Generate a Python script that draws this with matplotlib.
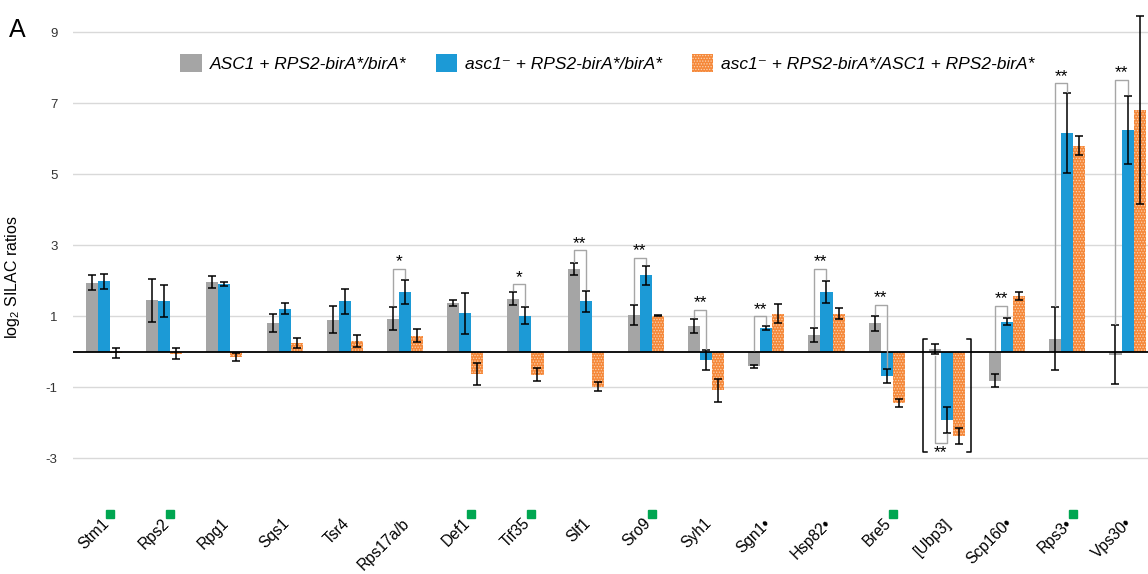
import numpy as np
import matplotlib
matplotlib.use("Agg")
import matplotlib.pyplot as plt
from matplotlib.patches import Patch

plt.rcParams['font.family'] = ['Liberation Sans', 'DejaVu Sans']
plt.rcParams['mathtext.fontset'] = 'custom'
plt.rcParams['mathtext.rm'] = 'Liberation Sans'
plt.rcParams['mathtext.it'] = 'Liberation Sans:italic'
plt.rcParams['hatch.linewidth'] = 0.6

# data (log2 SILAC ratios)
genes = ['Stm1', 'Rps2', 'Rpg1', 'Sqs1', 'Tsr4', 'Rps17a/b', 'Def1', 'Tif35', 'Slf1',
         'Sro9', 'Syh1', 'Sgn1\u2022', 'Hsp82\u2022', 'Bre5', '[Ubp3]', 'Scp160\u2022',
         'Rps3\u2022', 'Vps30\u2022']
green_marked = ['Stm1', 'Rps2', 'Def1', 'Tif35', 'Sro9', 'Bre5', 'Rps3\u2022']

gray_vals = [1.95, 1.45, 1.97, 0.80, 0.90, 0.93, 1.37, 1.50, 2.32, 1.04, 0.72, -0.41, 0.48, 0.80, 0.08, -0.81, 0.37, -0.08]
gray_err = [0.20, 0.60, 0.16, 0.25, 0.38, 0.33, 0.08, 0.18, 0.17, 0.29, 0.20, 0.05, 0.20, 0.22, 0.14, 0.19, 0.88, 0.82]
blue_vals = [1.98, 1.42, 1.90, 1.21, 1.42, 1.69, 1.08, 1.02, 1.42, 2.15, -0.23, 0.67, 1.69, -0.69, -1.92, 0.85, 6.16, 6.25]
blue_err = [0.20, 0.45, 0.06, 0.15, 0.35, 0.34, 0.58, 0.25, 0.30, 0.28, 0.27, 0.05, 0.31, 0.20, 0.36, 0.10, 1.12, 0.95]
orange_vals = [-0.03, -0.05, -0.15, 0.26, 0.30, 0.45, -0.63, -0.65, -0.98, 1.02, -1.09, 1.07, 1.07, -1.45, -2.37, 1.57, 5.81, 6.82]
orange_err = [0.15, 0.15, 0.12, 0.14, 0.17, 0.18, 0.30, 0.18, 0.13, 0.02, 0.32, 0.27, 0.15, 0.12, 0.23, 0.10, 0.26, 2.65]

legend_labels = ['ASC1 + RPS2-birA*/birA*',
                 'asc1\u207b + RPS2-birA*/birA*',
                 'asc1\u207b + RPS2-birA*/ASC1 + RPS2-birA*']

# significance brackets between gray and blue bars
sig_idx = [5, 7, 8, 9, 10, 11, 12, 13, 14, 15, 16, 17]
sig_text = ['*', '*', '**', '**', '**', '**', '**', '**', '**', '**', '**', '**']
sig_y = [2.34, 1.91, 2.86, 2.65, 1.18, 1.00, 2.34, 1.33, -2.56, 1.30, 7.56, 7.66]

yticks = [-3, -1, 1, 3, 5, 7, 9]

c_gray = '#A5A5A5'
c_blue = '#1C9AD6'
c_orange = '#F5883A'

fig = plt.figure(figsize=(11.48, 5.74), dpi=100)
ax = fig.add_axes([73 / 1148, 98 / 574, 1075 / 1148, 465 / 574])

x = np.arange(len(genes))
w = 0.2
ekw = dict(ecolor='black', elinewidth=1.1, capsize=3, capthick=1.1)

ax.bar(x - w, gray_vals, w, color=c_gray, zorder=2)
ax.bar(x, blue_vals, w, color=c_blue, zorder=2)
ax.bar(x + w, orange_vals, w, color=c_orange, edgecolor='#FCD2AE', linewidth=0,
       hatch='......', zorder=2)
ax.errorbar(x - w, gray_vals, yerr=gray_err, fmt='none', zorder=3, **ekw)
ax.errorbar(x, blue_vals, yerr=blue_err, fmt='none', zorder=3, **ekw)
ax.errorbar(x + w, orange_vals, yerr=orange_err, fmt='none', zorder=3, clip_on=False, **ekw)

ax.axhline(0, color='black', lw=1.3, zorder=2.5)
ax.set_xlim(-0.515, 17.34)
ax.set_ylim(-3.5, 9.6)
ax.set_yticks(yticks)
ax.set_yticklabels([str(t) for t in yticks], fontsize=9.5, color='#333333')
ax.yaxis.grid(True, color='#D9D9D9', lw=1)
ax.set_axisbelow(True)
ax.tick_params(axis='y', length=0, pad=11)
ax.set_xticks([])
for s in ax.spines.values():
    s.set_visible(False)

ax.set_ylabel('log$_2$ SILAC ratios', fontsize=11.5)
ax.yaxis.set_label_coords(-0.047, 0.428)

# significance brackets
for i, t, yb in zip(sig_idx, sig_text, sig_y):
    xl, xr = i - w, i
    if yb > 0:
        yl = max(gray_vals[i] + gray_err[i], 0) + 0.05
        yr = blue_vals[i] + blue_err[i] + 0.05
        ax.plot([xl, xl, xr, xr], [yl, yb, yb, yr], color='#A6A6A6', lw=1, zorder=4)
        ax.text(i - w / 2, yb - 0.02, t, ha='center', va='bottom', fontsize=12.5)
    else:
        yl = min(gray_vals[i] - gray_err[i], 0) - 0.05
        yr = blue_vals[i] - blue_err[i] - 0.05
        ax.plot([xl, xl, xr, xr], [yl, yb, yb, yr], color='#A6A6A6', lw=1, zorder=4)
        ax.text(i - w / 2, yb - 0.06, t, ha='center', va='top', fontsize=12.5)

# square brackets around Ubp3
ub = genes.index('[Ubp3]')
for side in (-1, 1):
    xe = ub + side * 0.395
    xi = xe - side * 0.06
    ax.plot([xi, xe, xe, xi], [0.37, 0.37, -2.83, -2.83], color='black', lw=1.1, zorder=4)

# category labels and green squares
for i, g in enumerate(genes):
    ax.text(i + 0.04, -4.77, g, rotation=45, ha='right', va='center',
            rotation_mode='anchor', fontsize=11.2, clip_on=False)
    if g in green_marked:
        ax.plot(i + 0.1, -4.58, marker='s', ms=5.5, color='#00A651', clip_on=False)

handles = [Patch(facecolor=c_gray), Patch(facecolor=c_blue),
           Patch(facecolor=c_orange, edgecolor='#FCD2AE', linewidth=0, hatch='......')]
fig.legend(handles, legend_labels, loc='center', bbox_to_anchor=(0.529, 0.89), ncol=3,
           frameon=False, prop={'style': 'italic', 'size': 12.5}, handlelength=1.25,
           handleheight=1.25, handletextpad=0.45, columnspacing=1.7)

fig.text(0.008, 0.935, 'A', fontsize=18)

fig.savefig('out.png', dpi=100)
